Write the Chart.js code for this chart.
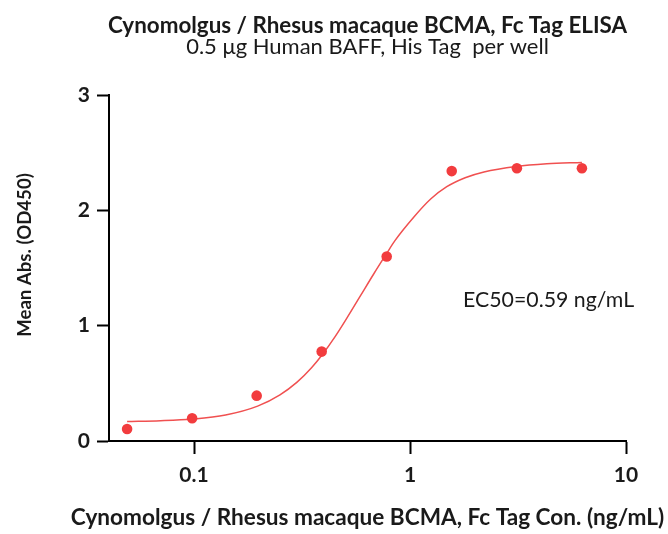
<!DOCTYPE html>
<html>
<head>
<meta charset="utf-8">
<script src="https://cdn.jsdelivr.net/npm/chart.js@4.4.1/dist/chart.umd.min.js"></script>
<style>
  html, body { margin: 0; padding: 0; background: #fff; }
</style>
</head>
<body>
<canvas id="elisaChart" width="668" height="534"></canvas>
<script>
"use strict";

// Measured points (ng/mL vs mean OD450)
var concentrations = [0.049, 0.098, 0.195, 0.39, 0.78, 1.56, 3.125, 6.25];
var meanAbs = [0.104, 0.197, 0.393, 0.775, 1.60, 2.34, 2.365, 2.365];

// Fitted curve
var fitX = [0.049, 0.07, 0.098, 0.14, 0.197, 0.25, 0.3, 0.35, 0.393, 0.45, 0.51, 0.59, 0.68, 0.785, 0.85, 1.04, 1.25, 1.48, 1.8, 2.2, 3.1, 4.3, 6.25];
var fitY = [0.169, 0.176, 0.19, 0.225, 0.302, 0.40, 0.51, 0.635, 0.75, 0.905, 1.065, 1.26, 1.45, 1.635, 1.735, 1.94, 2.10, 2.205, 2.283, 2.333, 2.38, 2.403, 2.415];

// Axis ticks
var xTickValues = [0.1, 1, 10];
var xTickLabels = ["0.1", "1", "10"];
var yTickValues = [0, 1, 2, 3];

var red = "rgb(242,60,62)";
var lineRed = "rgb(240,80,80)";
var textColour = "#1a1a1a";
var fontName = "Lato";

Chart.defaults.font.family = fontName;
Chart.defaults.color = textColour;

// Titles, axis titles and the EC50 note, drawn after the chart
var extraText = {
    id: "extraText",
    afterDraw: function(chart) {
        var c = chart.ctx;
        var area = chart.chartArea;
        var mid = (area.left + area.right) / 2;
        c.save();
        c.fillStyle = textColour;
        c.textAlign = "center";
        c.textBaseline = "alphabetic";

        c.font = "bold 22.4px " + fontName;
        c.fillText("Cynomolgus / Rhesus macaque BCMA, Fc Tag ELISA", mid, 33);
        c.font = "22px " + fontName;
        c.fillText("0.5 \u03bcg Human BAFF, His Tag  per well", mid, 54);

        c.font = "bold 22.6px " + fontName;
        c.fillText("Cynomolgus / Rhesus macaque BCMA, Fc Tag Con. (ng/mL)", mid, 525);

        c.save();
        c.translate(25, 255);
        c.rotate(-Math.PI / 2);
        c.textBaseline = "middle";
        c.font = "bold 18.6px " + fontName;
        c.fillText("Mean Abs. (OD450)", 0, 0);
        c.restore();

        c.textAlign = "left";
        c.font = "21.3px " + fontName;
        c.fillText("EC50=0.59 ng/mL", chart.scales.x.getPixelForValue(1.76), chart.scales.y.getPixelForValue(1.162));
        c.restore();
    }
};

function drawElisaChart() {
    var points = [];
    for (var i = 0; i < concentrations.length; i++) {
        points.push({x: concentrations[i], y: meanAbs[i]});
    }
    var curve = [];
    for (var j = 0; j < fitX.length; j++) {
        curve.push({x: fitX[j], y: fitY[j]});
    }

    var ctx = document.getElementById("elisaChart");
    new Chart(ctx, {
        type: "scatter",
        data: {
            datasets: [{
                label: "Mean Abs.",
                data: points,
                backgroundColor: red,
                borderWidth: 0,
                pointRadius: 5.3
            }, {
                label: "Fit",
                data: curve,
                showLine: true,
                borderColor: lineRed,
                borderWidth: 1.5,
                pointRadius: 0,
                cubicInterpolationMode: "monotone"
            }]
        },
        options: {
            responsive: false,
            animation: false,
            layout: {padding: {left: 0, right: 42, top: 95, bottom: 0}},
            plugins: {
                legend: {display: false},
                tooltip: {enabled: false}
            },
            scales: {
                x: {
                    type: "logarithmic",
                    min: 0.0404,
                    max: 10,
                    afterBuildTicks: function(axis) {
                        axis.ticks = xTickValues.map(function(v) { return {value: v}; });
                    },
                    afterFit: function(axis) { axis.height = 93; },
                    ticks: {
                        color: textColour,
                        font: {size: 21, weight: "bold"},
                        padding: 9,
                        callback: function(value, index) { return xTickLabels[index]; }
                    },
                    grid: {drawOnChartArea: false, drawTicks: true, tickLength: 13, tickWidth: 2, tickColor: "#000"},
                    border: {display: true, color: "#000", width: 2}
                },
                y: {
                    min: 0,
                    max: 3,
                    afterBuildTicks: function(axis) {
                        axis.ticks = yTickValues.map(function(v) { return {value: v}; });
                    },
                    afterFit: function(axis) { axis.width = 109; },
                    ticks: {
                        color: textColour,
                        font: {size: 21, weight: "bold"},
                        padding: 7
                    },
                    grid: {drawOnChartArea: false, drawTicks: true, tickLength: 12, tickWidth: 2, tickColor: "#000"},
                    border: {display: true, color: "#000", width: 2}
                }
            }
        },
        plugins: [extraText]
    });
}

window.onload = drawElisaChart;
</script>
</body>
</html>
